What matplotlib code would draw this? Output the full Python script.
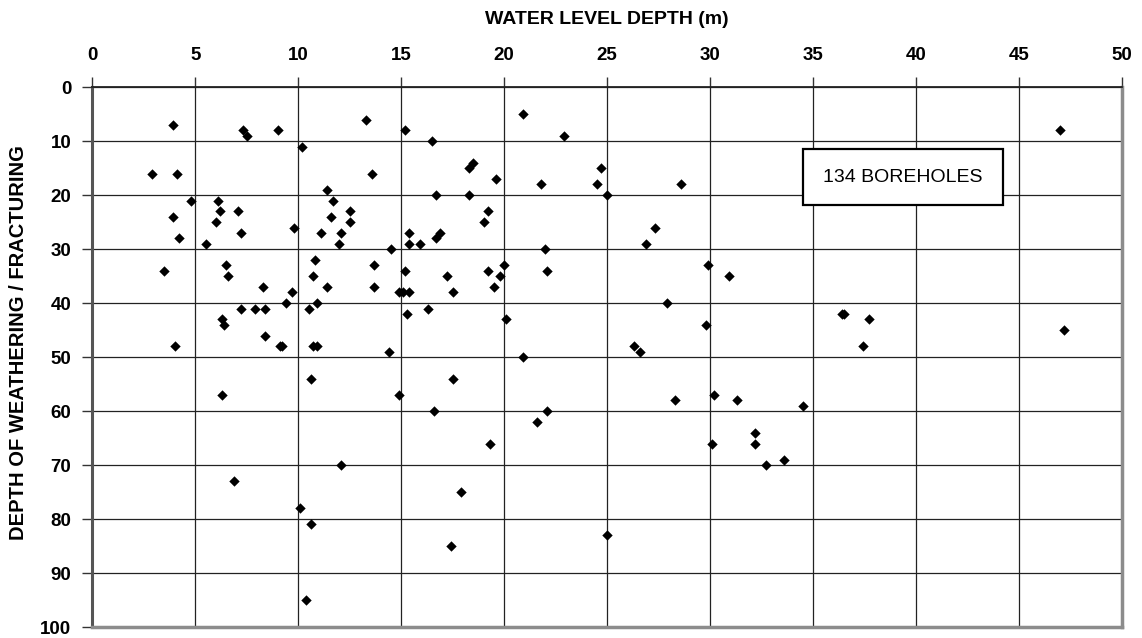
import matplotlib
matplotlib.use('Agg')
import matplotlib.pyplot as plt
from matplotlib.patches import Rectangle

plt.rcParams['font.family'] = ['Liberation Sans', 'DejaVu Sans']

# water level depth (m) and depth of weathering / fracturing (m)
water_level = [
    3.9, 7.3, 7.5, 9.0, 13.3, 10.2, 2.9, 4.1, 13.6, 11.4,
    4.8, 6.1, 11.7, 6.2, 7.1, 12.5, 3.9, 11.6, 6.0, 12.5,
    9.8, 7.2, 11.1, 12.1, 4.2, 5.5, 12.0, 3.5, 6.5, 6.6,
    10.8, 10.7, 13.7, 8.3, 11.4, 13.7, 9.7, 9.4, 10.9, 7.2,
    7.9, 8.4, 10.5, 6.3, 6.4, 8.4, 4.0, 9.1, 9.2, 10.7,
    10.9, 10.6, 6.3, 12.1, 6.9, 10.1, 10.6, 10.4,
    15.2, 16.5, 20.9, 22.9, 18.5, 18.3, 19.6, 21.8, 24.7, 24.5,
    25.0, 16.7, 18.3, 19.2, 19.0, 27.3, 26.9, 15.4, 16.9, 16.7,
    15.4, 15.9, 14.5, 22.0, 15.2, 17.2, 19.2, 20.0, 19.8, 22.1,
    19.5, 17.5, 14.9, 15.1, 15.4, 15.3, 16.3, 20.1, 14.4, 20.9,
    26.3, 26.6,
    17.5, 14.9, 16.6, 22.1, 21.6, 19.3, 17.9, 17.4, 25.0,
    28.6, 29.9, 30.9, 27.9, 29.8, 36.4, 36.5, 37.7, 37.4, 28.3,
    30.2, 31.3, 34.5, 30.1, 32.2, 32.2, 32.7, 33.6,
    47.0, 47.2,
]
weathering_depth = [
    7, 8, 9, 8, 6, 11, 16, 16, 16, 19,
    21, 21, 21, 23, 23, 23, 24, 24, 25, 25,
    26, 27, 27, 27, 28, 29, 29, 34, 33, 35,
    32, 35, 33, 37, 37, 37, 38, 40, 40, 41,
    41, 41, 41, 43, 44, 46, 48, 48, 48, 48,
    48, 54, 57, 70, 73, 78, 81, 95,
    8, 10, 5, 9, 14, 15, 17, 18, 15, 18,
    20, 20, 20, 23, 25, 26, 29, 27, 27, 28,
    29, 29, 30, 30, 34, 35, 34, 33, 35, 34,
    37, 38, 38, 38, 38, 42, 41, 43, 49, 50,
    48, 49,
    54, 57, 60, 60, 62, 66, 75, 85, 83,
    18, 33, 35, 40, 44, 42, 42, 43, 48, 58,
    57, 58, 59, 66, 64, 66, 70, 69,
    8, 45,
]
x_ticks = list(range(0, 51, 5))
y_ticks = list(range(0, 101, 10))
note = '134 BOREHOLES'

fig = plt.figure(figsize=(11.42, 6.38), dpi=100)
ax = fig.add_axes([0.0808, 0.0172, 0.9017, 0.846])

ax.scatter(water_level, weathering_depth, marker='D', s=28, color='black',
           linewidths=0, zorder=3)

ax.set_xlim(0, 50)
ax.set_ylim(100, 0)
ax.set_xticks(x_ticks)
ax.set_yticks(y_ticks)
ax.xaxis.tick_top()
ax.tick_params(axis='both', direction='out', length=7, width=1, color='#333333',
               labelsize=13.5)
ax.tick_params(axis='x', pad=10)
ax.tick_params(axis='y', pad=8)
for lab in ax.get_xticklabels() + ax.get_yticklabels():
    lab.set_fontweight('bold')

ax.grid(True, color='#222222', linewidth=0.9, zorder=0)
ax.set_axisbelow(True)

ax.spines['top'].set_color('#222222')
ax.spines['top'].set_linewidth(1.3)
ax.spines['left'].set_color('#555555')
ax.spines['left'].set_linewidth(2.2)
ax.spines['right'].set_color('#8c8c8c')
ax.spines['right'].set_linewidth(2.5)
ax.spines['bottom'].set_color('#8c8c8c')
ax.spines['bottom'].set_linewidth(2.5)

fig.text(0.531, 1 - 20 / 638, 'WATER LEVEL DEPTH (m)', ha='center', va='center',
         fontsize=14, fontweight='bold')
fig.text(18.5 / 1142, 1 - 343 / 638, 'DEPTH OF WEATHERING / FRACTURING', ha='center',
         va='center', rotation=90, fontsize=14.5, fontweight='bold')

# note box
ax.add_patch(Rectangle((34.5, 11.35), 9.74, 10.45, facecolor='white',
                       edgecolor='black', linewidth=1.6, zorder=4))
ax.text(39.37, 16.7, note, ha='center', va='center', fontsize=14, zorder=5)

fig.savefig('out.png', dpi=100)
